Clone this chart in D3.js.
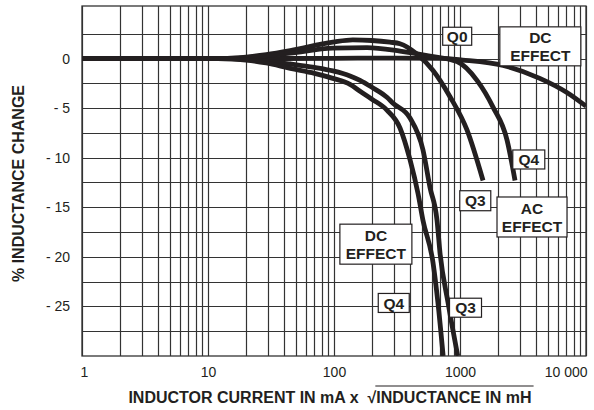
<!DOCTYPE html>
<html>
<head>
<meta charset="utf-8">
<script src="https://cdn.jsdelivr.net/npm/d3@7"></script>
<style>
body { margin: 0; background: #fff; }
text { font-family: "Liberation Sans", Arial, Helvetica, sans-serif; fill: #231f20; }
</style>
</head>
<body>
<svg width="594" height="410"></svg>
<script>
// axis ticks
const xTicks = [1, 10, 100, 1000, 10000];
const xTickLabels = ['1', '10', '100', '1000', '10 000'];
const yTicks = [0, -5, -10, -15, -20, -25];
const yTickLabels = ['0', '- 5', '- 10', '- 15', '- 20', '- 25'];

// curves: [current x sqrt(L), % change]
const dcQ0 = [[1, 0], [20, 0], [100, 0.02], [300, 0.05], [700, 0.02], [1050, -0.15], [2200, -0.7], [4300, -2.0], [7000, -3.4], [10000, -4.8]];
const acQ3 = [[1, 0], [12, 0], [20, 0.15], [29, 0.4], [45, 0.8], [98, 1.65], [141, 1.88], [200, 1.82], [278, 1.65], [334, 1.5], [456, 0.45], [611, -1.2], [833, -3.85], [1136, -7.2], [1523, -12.3]];
const acQ4 = [[1, 0], [12, 0], [20, 0.1], [29, 0.3], [45, 0.55], [98, 1.05], [183, 1.1], [334, 0.75], [578, 0.25], [946, -0.3], [1364, -2.2], [1828, -4.9], [2360, -8.2], [2733, -12.3]];
const dcQ3 = [[1, 0], [12, 0], [20, -0.1], [29, -0.25], [45, -0.55], [70, -0.9], [98, -1.25], [134, -1.75], [161, -2.2], [200, -2.9], [263, -3.9], [294, -4.5], [401, -6.0], [508, -9.2], [578, -13.0], [657, -16.3], [694, -19.6], [803, -24.6], [960, -30]];
const dcQ4 = [[1, 0], [12, 0], [20, -0.15], [29, -0.45], [45, -1.0], [70, -1.5], [98, -2.0], [134, -2.6], [161, -3.3], [200, -4.1], [263, -5.2], [334, -7.0], [401, -10.2], [464, -13.6], [508, -16.3], [611, -20.6], [668, -24.6], [735, -30]];

const curves = [dcQ0, acQ3, acQ4, dcQ3, dcQ4];

// callout labels (centre in data units, box in px)
const labels = [
  { lines: ['Q0'], x: 950, y: 2.25, w: 29, h: 18 },
  { lines: ['DC', 'EFFECT'], x: 4340, y: 1.23, w: 81, h: 39 },
  { lines: ['Q4'], x: 3515, y: -10.18, w: 32, h: 19 },
  { lines: ['Q3'], x: 1322, y: -14.34, w: 31, h: 20 },
  { lines: ['AC', 'EFFECT'], x: 3728, y: -15.98, w: 70, h: 40 },
  { lines: ['DC', 'EFFECT'], x: 215, y: -18.72, w: 72, h: 40 },
  { lines: ['Q4'], x: 298, y: -24.65, w: 31, h: 19 },
  { lines: ['Q3'], x: 1106, y: -25.13, w: 32, h: 19 }
];

const ink = '#231f20';
const plotLeft = 82, plotRight = 586, plotTop = 6, plotBottom = 356;

const svg = d3.select('svg');

const x = d3.scaleLog().domain([1, 10000]).range([plotLeft, plotRight]);
const y = d3.scaleLinear().domain([-30, 5.3]).range([plotBottom, plotTop]);

// grid
const grid = svg.append('g').attr('stroke', '#333').attr('stroke-width', 1.2);
grid.selectAll('line.v')
  .data(x.ticks())
  .enter().append('line')
  .attr('class', 'v')
  .attr('x1', d => Math.round(x(d)) + 0.5).attr('x2', d => Math.round(x(d)) + 0.5)
  .attr('y1', plotTop).attr('y2', plotBottom);
grid.selectAll('line.h')
  .data(d3.range(-27.5, 5, 2.5))
  .enter().append('line')
  .attr('class', 'h')
  .attr('y1', d => Math.round(y(d)) + 0.5).attr('y2', d => Math.round(y(d)) + 0.5)
  .attr('x1', plotLeft).attr('x2', plotRight);
svg.append('rect')
  .attr('x', plotLeft).attr('y', plotTop)
  .attr('width', plotRight - plotLeft).attr('height', plotBottom - plotTop)
  .attr('fill', 'none').attr('stroke', '#333').attr('stroke-width', 1.3);

// curves
svg.append('clipPath').attr('id', 'plot')
  .append('rect').attr('x', plotLeft).attr('y', plotTop).attr('width', plotRight - plotLeft).attr('height', plotBottom - plotTop);

const line = d3.line()
  .x(d => x(d[0]))
  .y(d => y(d[1]))
  .curve(d3.curveMonotoneX);

svg.append('g').attr('clip-path', 'url(#plot)')
  .selectAll('path')
  .data(curves)
  .enter().append('path')
  .attr('d', line)
  .attr('fill', 'none')
  .attr('stroke', ink)
  .attr('stroke-width', 4.8);

// axes
const xAxis = svg.append('g')
  .attr('transform', `translate(0,${plotBottom})`)
  .call(d3.axisBottom(x).tickValues(xTicks).tickFormat((d, i) => xTickLabels[i]).tickSize(0).tickPadding(11));
xAxis.select('.domain').remove();
xAxis.attr('font-size', 14).attr('font-family', null);
xAxis.selectAll('text').attr('fill', ink);
xAxis.selectAll('text').filter((d, i) => i === 0).attr('text-anchor', 'start').attr('dx', -2);
xAxis.selectAll('text').filter((d, i) => i === xTicks.length - 1).attr('text-anchor', 'end').attr('dx', 1);

const yAxis = svg.append('g')
  .attr('transform', `translate(${plotLeft},0)`)
  .call(d3.axisLeft(y).tickValues(yTicks).tickFormat((d, i) => yTickLabels[i]).tickSize(0).tickPadding(12));
yAxis.select('.domain').remove();
yAxis.attr('font-size', 14).attr('font-family', null);
yAxis.selectAll('text').attr('fill', ink);

// axis titles
svg.append('text')
  .attr('transform', 'translate(24,183.5) rotate(-90)')
  .attr('text-anchor', 'middle')
  .attr('font-size', 16)
  .attr('font-weight', 'bold')
  .text('% INDUCTANCE CHANGE');

const xTitleText = 'INDUCTOR CURRENT IN mA x  \u221AINDUCTANCE IN mH';
const xTitle = svg.append('text')
  .attr('x', 330).attr('y', 403)
  .attr('text-anchor', 'middle')
  .attr('font-size', 16)
  .attr('font-weight', 'bold')
  .style('white-space', 'pre')
  .text(xTitleText);

const node = xTitle.node();
const rootIdx = xTitleText.indexOf('\u221A');
const ox0 = node.getEndPositionOfChar(rootIdx).x - 1;
const ox1 = node.getEndPositionOfChar(xTitleText.length - 1).x + 2;
svg.append('line')
  .attr('x1', ox0).attr('x2', ox1)
  .attr('y1', 386).attr('y2', 386)
  .attr('stroke', ink).attr('stroke-width', 1.2);

// callouts
const callout = svg.selectAll('g.callout')
  .data(labels)
  .enter().append('g')
  .attr('class', 'callout')
  .attr('transform', d => `translate(${x(d.x)},${y(d.y)})`);

callout.append('rect')
  .attr('x', d => -d.w / 2).attr('y', d => -d.h / 2)
  .attr('width', d => d.w).attr('height', d => d.h)
  .attr('fill', '#fff').attr('stroke', ink).attr('stroke-width', 1.2);

callout.each(function (d) {
  const g = d3.select(this);
  d.lines.forEach((t, i) => {
    g.append('text')
      .attr('x', 0)
      .attr('y', (i - (d.lines.length - 1) / 2) * 18)
      .attr('dy', '0.36em')
      .attr('text-anchor', 'middle')
      .attr('font-size', 15.5)
      .attr('font-weight', 'bold')
      .text(t);
  });
});
</script>
</body>
</html>
